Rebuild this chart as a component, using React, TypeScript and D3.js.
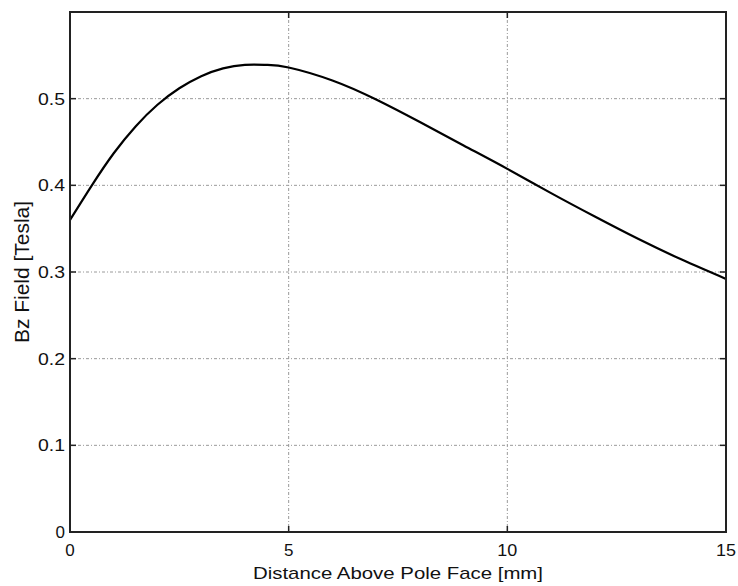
import React from "react";
import * as d3 from "d3";

const distance = [0, 0.5, 1, 1.5, 2, 2.5, 3, 3.5, 4, 4.5, 5, 6, 7, 8, 9, 10, 11, 12, 13, 14, 15];
const bzField = [0.36, 0.4, 0.437, 0.468, 0.493, 0.512, 0.526, 0.535, 0.539, 0.539, 0.536, 0.521, 0.499, 0.473, 0.446, 0.419, 0.391, 0.364, 0.338, 0.314, 0.292];
const xTicks = [0, 5, 10, 15];
const yTicks = [0, 0.1, 0.2, 0.3, 0.4, 0.5];
const xLabel = "Distance Above Pole Face [mm]";
const yLabel = "Bz Field [Tesla]";

const W = 738;
const H = 586;
const L = 70, R = 726, T = 12, B = 532;

export default function App() {
  const x = d3.scaleLinear().domain([0, 15]).range([L, R]);
  const y = d3.scaleLinear().domain([0, 0.6]).range([B, T]);
  const line = d3
    .line<number>()
    .x((_, i) => x(distance[i]))
    .y((d) => y(d))
    .curve(d3.curveNatural);
  const font = "'Liberation Sans', Arial, Helvetica, sans-serif";
  const grid = "#9a9a9a";
  const axis = "#222";
  const tl = 6;
  return (
    <svg width={W} height={H} style={{ position: "absolute", left: 0, top: 0, display: "block", background: "#fff" }}>
      {/* grid */}
      {xTicks.filter((t) => t > 0 && t < 15).map((t) => (
        <line key={"gx" + t} x1={x(t)} x2={x(t)} y1={T} y2={B} stroke={grid} strokeWidth={1} strokeDasharray="3,2,1,2" />
      ))}
      {yTicks.filter((t) => t > 0).map((t) => (
        <line key={"gy" + t} x1={L} x2={R} y1={y(t)} y2={y(t)} stroke={grid} strokeWidth={1} strokeDasharray="3,2,1,2" />
      ))}
      {/* ticks */}
      {xTicks.map((t) => (
        <g key={"tx" + t}>
          <line x1={x(t)} x2={x(t)} y1={B} y2={B - tl} stroke={axis} strokeWidth={1.5} />
          <line x1={x(t)} x2={x(t)} y1={T} y2={T + tl} stroke={axis} strokeWidth={1.5} />
          <text x={x(t)} y={556} textAnchor="middle" fontFamily={font} fontSize={17} fill="#111"
            {...(t >= 10 ? { textLength: 20, lengthAdjust: "spacingAndGlyphs" } : {})}>
            {String(t)}
          </text>
        </g>
      ))}
      {yTicks.map((t) => (
        <g key={"ty" + t}>
          <line x1={L} x2={L + tl} y1={y(t)} y2={y(t)} stroke={axis} strokeWidth={1.5} />
          <line x1={R} x2={R - tl} y1={y(t)} y2={y(t)} stroke={axis} strokeWidth={1.5} />
          <text x={L - 5} y={y(t) + 6} textAnchor="end" fontFamily={font} fontSize={17} fill="#111"
            {...(t > 0 ? { textLength: 27, lengthAdjust: "spacingAndGlyphs" } : {})}>
            {t === 0 ? "0" : String(t)}
          </text>
        </g>
      ))}
      {/* curve */}
      <path d={line(bzField) || ""} fill="none" stroke="#000" strokeWidth={2.2} />
      {/* box */}
      <rect x={L} y={T} width={R - L} height={B - T} fill="none" stroke={axis} strokeWidth={2} />
      {/* labels */}
      <text x={(L + R) / 2} y={579} textAnchor="middle" fontFamily={font} fontSize={17} fill="#111"
        textLength={290} lengthAdjust="spacingAndGlyphs">
        {xLabel}
      </text>
      <g transform={`translate(29, ${(T + B) / 2}) rotate(-90) scale(1,1.15)`}>
        <text x={0} y={0} textAnchor="middle" fontFamily={font} fontSize={17} fill="#111"
          textLength={142} lengthAdjust="spacingAndGlyphs">
          {yLabel}
        </text>
      </g>
    </svg>
  );
}
